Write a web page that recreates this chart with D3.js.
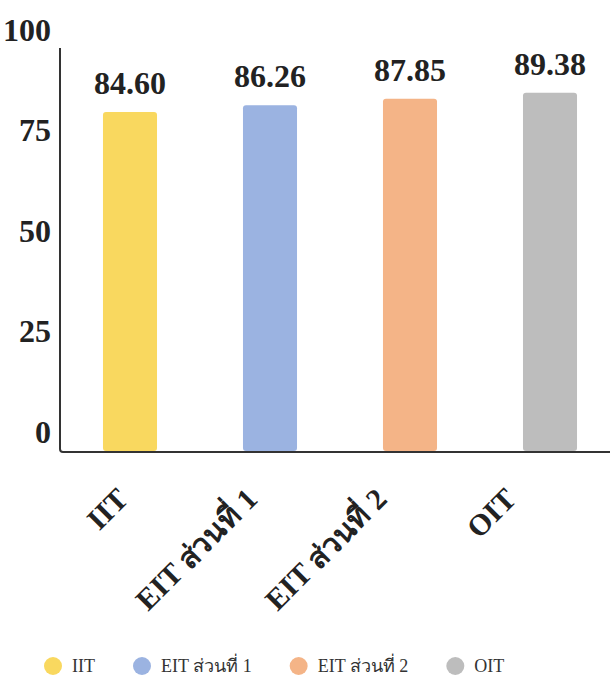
<!DOCTYPE html>
<html>
<head>
<meta charset="utf-8">
<script src="https://cdn.jsdelivr.net/npm/d3@7"></script>
<style>
  body { margin: 0; background: #fff; }
  svg { display: block; }
</style>
</head>
<body>
<div id="chart"></div>
<script>
// data
const categories = ["IIT", "EIT ส่วนที่ 1", "EIT ส่วนที่ 2", "OIT"];
const scores = [84.6, 86.26, 87.85, 89.38];
const yTicks = [0, 25, 50, 75, 100];
const colors = ["#f9d85f", "#9bb3e1", "#f4b487", "#bdbdbd"];

const width = 610,
  height = 687;
const serif = "'Liberation Serif', 'Times New Roman', 'DejaVu Serif', serif";
const ink = "#222";

const svg = d3
  .select("#chart")
  .append("svg")
  .attr("width", width)
  .attr("height", height);

const x = d3
  .scaleBand()
  .domain(categories)
  .range([60, 620])
  .paddingInner(0.614)
  .paddingOuter(0.307);

// rotated labels sit a little tighter than the bars
const xLabel = d3.scalePoint().domain(categories).range([115, 503]);

const y = d3.scaleLinear().domain([0, 100]).range([452, 50]);

// ************** axes *****************
svg
  .append("path")
  .attr("d", `M60,48 L60,449 Q60,452 63,452 L${width},452`)
  .attr("fill", "none")
  .attr("stroke", "#333")
  .attr("stroke-width", 2);

const yAxis = svg
  .append("g")
  .attr("transform", "translate(60,0)")
  .call(d3.axisLeft(y).tickValues(yTicks).tickSize(0).tickPadding(9));

yAxis.select(".domain").remove();
yAxis
  .selectAll("text")
  .attr("dy", "-0.3em")
  .style("font-family", serif)
  .style("font-weight", "bold")
  .style("font-size", "32px")
  .attr("fill", ink);

// ************** bars *****************
svg
  .selectAll("rect.bar")
  .data(scores)
  .enter()
  .append("rect")
  .attr("class", "bar")
  .attr("x", (d, i) => x(categories[i]))
  .attr("y", d => y(d))
  .attr("width", x.bandwidth())
  .attr("height", d => y(0) - y(d) - 1)
  .attr("rx", 3)
  .attr("fill", (d, i) => colors[i]);

// value labels
svg
  .selectAll("text.value")
  .data(scores)
  .enter()
  .append("text")
  .attr("class", "value")
  .attr("x", (d, i) => x(categories[i]) + x.bandwidth() / 2)
  .attr("y", d => y(d) - 18)
  .attr("text-anchor", "middle")
  .style("font-family", serif)
  .style("font-weight", "bold")
  .style("font-size", "32px")
  .attr("fill", ink)
  .text(d => d.toFixed(2));

// category labels, rotated
svg
  .selectAll("text.cat")
  .data(categories)
  .enter()
  .append("text")
  .attr("class", "cat")
  .attr("transform", d => "translate(" + xLabel(d) + ",486) rotate(-45)")
  .attr("text-anchor", "end")
  .attr("dy", "0.7em")
  .style("font-family", serif)
  .style("font-weight", "bold")
  .style("font-size", "30px")
  .attr("fill", ink)
  .text(d => d);

// ************** legend *****************
const legend = svg.append("g").attr("transform", "translate(0,666)");
let lx = 53;
categories.forEach((c, i) => {
  const item = legend.append("g").attr("transform", "translate(" + lx + ",0)");
  item
    .append("circle")
    .attr("r", 9)
    .attr("fill", colors[i]);
  const t = item
    .append("text")
    .attr("x", 19)
    .attr("dy", "0.35em")
    .style("font-family", serif)
    .style("font-size", "18px")
    .attr("fill", "#333")
    .text(c);
  lx += 19 + t.node().getComputedTextLength() + 47;
});
</script>
</body>
</html>
